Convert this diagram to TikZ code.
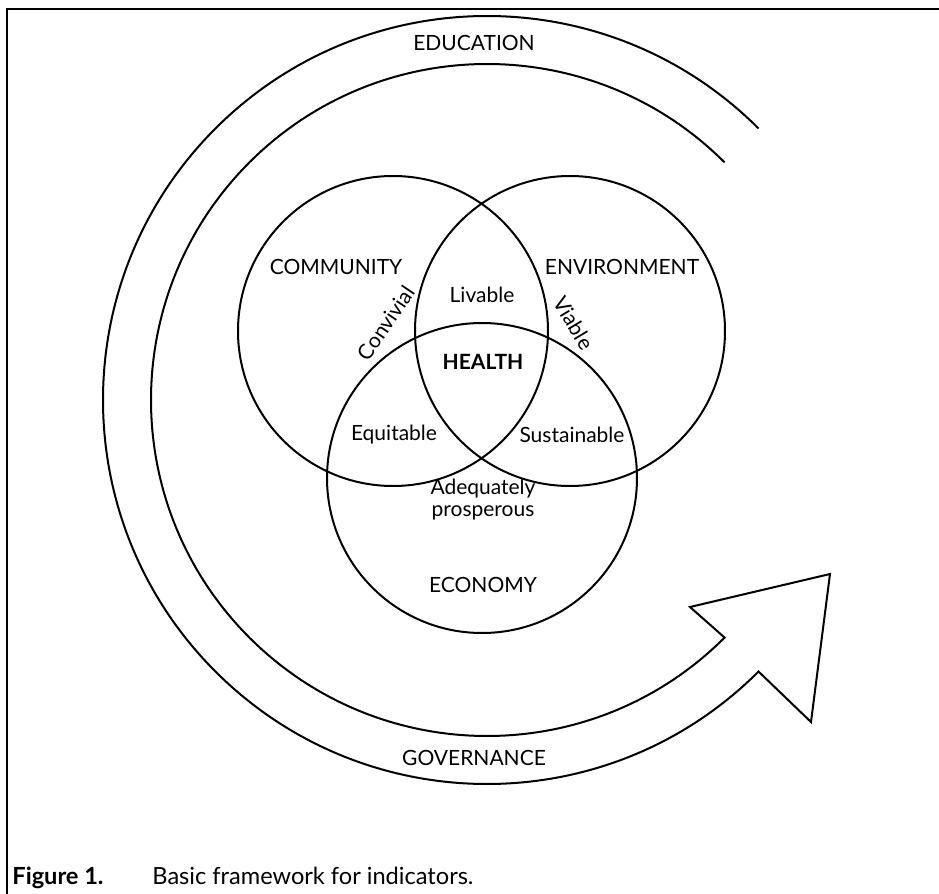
\documentclass[tikz,border=0pt]{standalone}
\usepackage{fontspec}
\setmainfont{Lato}
\usetikzlibrary{positioning,calc}

\begin{document}
\begin{tikzpicture}[
        x=0.5pt, y=0.5pt,
        set/.style={circle, draw, line width=1pt, minimum size=155pt, inner sep=0pt},
        word/.style={font=\fontsize{10.5}{12}\selectfont, inner sep=0pt},
        band/.style={draw, line width=1pt, line join=miter},
        caption/.style={anchor=base west, inner sep=0pt, font=\fontsize{11.8}{13}\selectfont}
    ]
    \useasboundingbox (0,0) rectangle (939,-894);

    % frame
    \draw[line width=1.2pt] (7,-894) -- (7,-9) -- (939,-9);

    % three domains
    \node[set] (community) at (393,-331) {};
    \node[set] (environment) at (570,-331) {};
    \node[set] (economy) at (482,-478) {};

    % big arrow round the circles
    \coordinate (hub) at (487,-400);
    \coordinate (barbout) at (811,-722);
    \coordinate (tip) at (830,-574);
    \coordinate (barbin) at (690,-607);
    \draw[band] ($(hub)+(45:384)$) arc[start angle=45, end angle=315, radius=384]
        -- (barbout) -- (tip) -- (barbin)
        -- ($(hub)+(315:336)$) arc[start angle=315, end angle=45, radius=336];

    % labels
    \node[word] (education) at (474,-43) {EDUCATION};
    \node[word] (governance) at (474,-758) {GOVERNANCE};
    \node[word] (communitylbl) at (336,-267) {COMMUNITY};
    \node[word] (environmentlbl) at (622,-267) {ENVIRONMENT};
    \node[word] (economylbl) at (483,-585) {ECONOMY};
    \node[word, font=\fontsize{10.5}{12}\selectfont\bfseries] (health) at (483,-362) {HEALTH};
    \node[word] (livable) at (482,-295) {Livable};
    \node[word] (equitable) at (394,-435) {Equitable};
    \node[word] (sustainable) at (572,-435) {Sustainable};
    \node[word, align=center, font=\fontsize{10.5}{11}\selectfont] (prosperous) at (483,-500) {Adequately\\prosperous};
    \node[word, rotate=56] (convivial) at (386,-323) {Convivial};
    \node[word, rotate=-59] (viable) at (574,-323) {Viable};

    % caption
    \node[caption, font=\fontsize{11.8}{13}\selectfont\bfseries] (figno) at (12,-884) {Figure 1.};
    \node[caption] (figtext) at (152,-884) {Basic framework for indicators.};

\end{tikzpicture}
\end{document}
